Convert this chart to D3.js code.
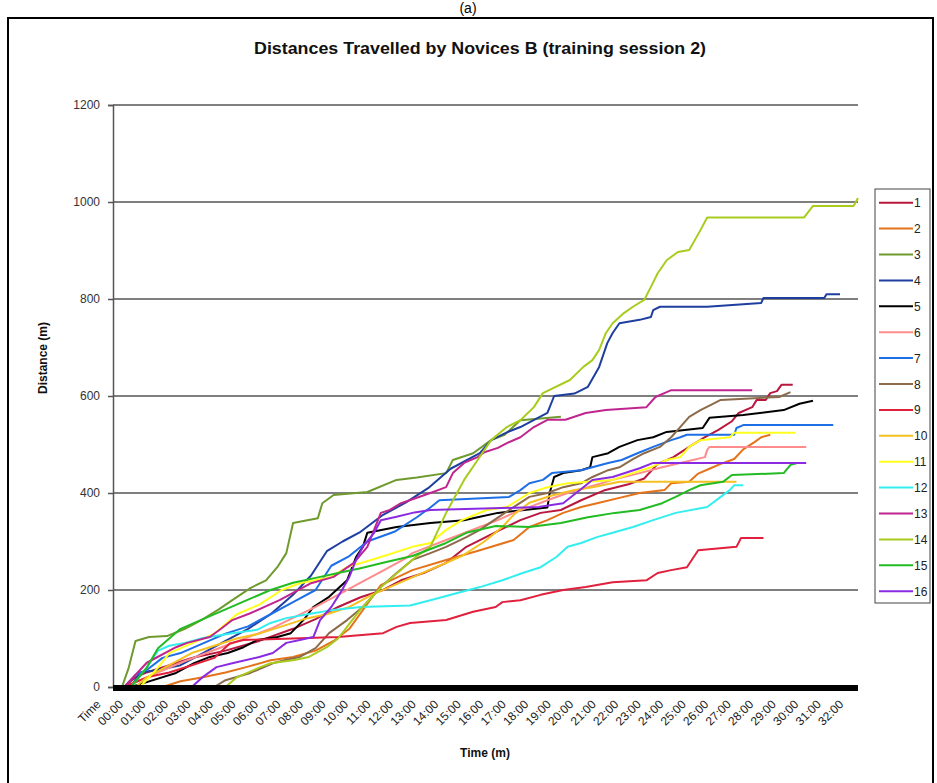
<!DOCTYPE html>
<html>
<head>
<meta charset="utf-8">
<script src="https://cdn.jsdelivr.net/npm/d3@7"></script>
<style>
  body { margin: 0; background: #fff; }
  svg { display: block; font-family: "Liberation Sans", Arial, sans-serif; }
</style>
</head>
<body>
<svg id="chart" width="937" height="783"></svg>
<script>
// Participants (legend entries) and their line colours
const seriesNames = ["1","2","3","4","5","6","7","8","9","10","11","12","13","14","15","16"];
const seriesColors = ["#B8173E","#E4731A","#6F9A2E","#1F3F9F","#000000","#FF8C8C","#1E6FE6","#8C6A4A",
                      "#E0203C","#F5C022","#FFFF1E","#33EEEE","#C0258F","#A8CC1E","#22BB22","#8A2BE2"];

// Category labels along the time axis (minutes:seconds)
const timeLabels = ["Time","00:00","01:00","02:00","03:00","04:00","05:00","06:00","07:00","08:00",
                    "09:00","10:00","11:00","12:00","13:00","14:00","15:00","16:00","17:00","18:00",
                    "19:00","20:00","21:00","22:00","23:00","24:00","25:00","26:00","27:00","28:00",
                    "29:00","30:00","31:00","32:00"];
const distanceTicks = [0, 200, 400, 600, 800, 1000, 1200];

// Cumulative distance per novice: [elapsed minutes, metres]
const novice1 = [[0,0],[0.5,0],[1,20],[1.5,30],[2.5,45],[3.5,60],[5,75],[6.5,95],[8,120],[9,140],[10,165],[11,185],[12,200],[12.8,220],[13.8,235],[14.8,256],[15.7,289],[16.3,303],[17.2,324],[18.1,344],[19,359],[19.9,365],[20.8,385],[21.8,405],[22.9,418],[23.6,430],[24.2,460],[24.9,474],[25.6,495],[26.3,515],[26.9,530],[27.5,548],[27.8,565],[28.4,577],[28.6,592],[29,592],[29.2,606],[29.5,610],[29.7,623],[30.2,623]];
const novice2 = [[0,0],[2.2,0],[3,12],[4,20],[5,30],[6,42],[7,55],[8,62],[9,75],[9.8,95],[10.5,120],[11.2,165],[11.9,210],[13.3,241],[14.8,262],[16.3,282],[17.8,303],[18.5,330],[19.3,344],[20,359],[20.8,371],[21.6,380],[22.5,390],[23.4,400],[24.5,406],[24.8,420],[25.6,423],[26,440],[26.5,450],[27,460],[27.6,470],[28,490],[28.5,505],[28.8,515],[29.2,520]];
const novice3 = [[0,0],[0.4,0],[0.7,40],[1.0,95],[1.6,103],[2.4,105],[3.2,120],[4,140],[4.7,160],[5.3,179],[6.1,204],[6.8,220],[7.3,247],[7.7,276],[8.0,338],[9.1,348],[9.3,379],[9.8,396],[11.3,402],[12.6,427],[13.5,432],[14.8,441],[15.1,468],[16.0,482],[16.8,509],[17.4,520],[18.1,550],[19.9,557]];
const novice4 = [[0,0],[0.8,0],[1.2,30],[2,35],[3,45],[4,70],[5,95],[6,120],[7,150],[8,190],[8.8,230],[9.5,280],[10.2,300],[11,320],[12,355],[13,380],[14,410],[15,450],[16.3,482],[16.8,509],[17.5,525],[18.1,536],[19.3,565],[19.6,600],[20.5,605],[21.1,619],[21.6,660],[21.96,709],[22.2,730],[22.5,750],[23.4,757],[23.9,763],[24.0,777],[24.3,784],[26.4,784],[28.8,792],[28.9,802],[31.6,802],[31.7,810],[32.3,810]];
const novice5 = [[0,0],[0.8,0],[1.5,10],[2.8,29],[3.6,49],[4.3,62],[5.1,70],[5.8,82],[6.4,97],[7.3,103],[7.9,111],[8.5,140],[8.9,165],[9.6,186],[10.4,220],[10.8,268],[11.1,289],[11.3,318],[12.6,330],[14.1,338],[15.6,344],[16.3,351],[17.1,359],[19.3,370],[19.4,400],[19.6,433],[20,441],[20.8,447],[21.2,453],[21.3,474],[22,482],[22.5,495],[23.3,509],[24,515],[24.6,526],[26.2,534],[26.5,555],[28,561],[29.8,571],[30.5,584],[31.1,590]];
const novice6 = [[0,0],[0.5,0],[1.5,20],[3,50],[5,85],[7,120],[9,165],[10,190],[11,215],[12,240],[13,265],[13.3,276],[14.8,303],[16.3,330],[17.1,344],[17.8,359],[18.5,371],[19.3,385],[20.2,400],[21.1,412],[22.2,427],[23.4,441],[24.4,453],[25.2,462],[26.3,474],[26.4,489],[26.5,495],[30.8,495]];
const novice7 = [[0,0],[0.5,0],[1,25],[1.5,35],[2.2,60],[3,70],[4,90],[5,110],[6,125],[7,150],[8,175],[9,200],[9.7,250],[10.5,270],[11.3,300],[12.5,320],[13.5,350],[14.1,370],[14.5,385],[17.6,392],[18.1,406],[18.5,420],[19.1,427],[19.5,441],[20.8,447],[22,462],[22.6,468],[23.3,482],[24,495],[24.8,509],[25.2,515],[25.5,520],[27.6,520],[27.7,534],[28,540],[32,540]];
const novice8 = [[0,0],[4.5,0],[5,14],[6.1,29],[7.1,49],[7.7,56],[8.3,62],[9,80],[9.6,111],[10.4,138],[11.1,165],[11.9,206],[12.6,235],[13.3,262],[14.1,276],[14.8,289],[15.7,309],[16.3,324],[16.8,340],[17.8,371],[18.5,392],[19.3,400],[20,412],[20.8,420],[21.3,433],[22,447],[22.5,453],[23.1,470],[23.6,482],[24.3,495],[24.8,515],[25.2,536],[25.6,557],[26.1,571],[26.7,585],[27,592],[29.6,598],[30.1,608]];
const novice9 = [[0,0],[0.5,0],[1.5,20],[2.5,30],[3.5,45],[4.5,60],[5.2,90],[5.8,97],[10,103],[12,111],[12.6,124],[13.2,132],[14.8,138],[16,155],[17,165],[17.3,175],[18.1,179],[19,190],[20,200],[21,206],[22.2,216],[23.7,220],[24.2,235],[24.8,241],[25.5,247],[26,282],[27.7,289],[27.9,307],[28.9,307]];
const novice10 = [[0,0],[1,0],[1.5,20],[2.5,45],[3.5,70],[4.5,85],[5.5,100],[6.5,110],[7.5,125],[8.5,140],[9.5,150],[10.5,165],[11.5,190],[12.5,210],[13.5,230],[14.5,250],[15.5,270],[16.5,300],[17.3,330],[17.8,355],[18.5,380],[19.5,395],[20.5,406],[21.3,412],[22.5,423],[27.7,423]];
const novice11 = [[0,0],[1.2,0],[2,40],[2.5,70],[3.5,90],[4.5,110],[5.5,150],[6.5,170],[7.5,200],[8.3,214],[9.7,227],[10.4,247],[11.9,268],[13.3,289],[14.1,297],[14.8,324],[15.5,344],[16.6,365],[17.5,371],[18.5,400],[19.3,412],[20.2,420],[22.2,427],[23.1,441],[23.9,453],[24.6,468],[25.2,474],[25.6,495],[26.1,509],[27.4,515],[27.6,524],[30.3,524]];
const novice12 = [[0,0],[0.8,0],[1.5,40],[2,75],[2.5,85],[3.2,91],[4,101],[5.3,111],[6.4,118],[7,132],[7.7,142],[8.9,152],[9.8,159],[11,165],[13.2,168],[14.1,179],[15.3,194],[16.3,206],[17.3,220],[18.2,235],[19,247],[19.7,268],[20.2,289],[20.8,297],[21.5,309],[22.2,318],[23.1,330],[24,344],[25,359],[26.4,371],[27,392],[27.4,406],[27.6,416],[28,416]];
const novice13 = [[0,0],[0.5,0],[1.5,50],[2.8,82],[3.3,91],[4.3,103],[4.8,120],[5.3,138],[6.1,152],[7.4,179],[8,194],[8.8,214],[9.8,227],[10.7,256],[11.3,289],[11.6,324],[11.9,359],[12.3,365],[12.8,379],[14.1,400],[14.8,412],[15.1,441],[15.6,462],[16.2,474],[16.5,484],[17.1,493],[17.5,503],[18.1,515],[18.7,536],[19.3,551],[20.1,551],[21,565],[21.9,571],[23.7,577],[24.1,598],[24.6,608],[24.8,612],[28.4,612]];
const novice14 = [[0,0],[5,0],[5.5,20],[6.5,40],[7,49],[8,55],[8.7,62],[9.5,82],[10,100],[10.5,130],[11,160],[11.5,185],[12,210],[12.5,230],[13,250],[13.5,270],[14.1,289],[14.8,359],[15.6,427],[16.2,468],[16.8,509],[17.5,536],[18.1,550],[18.7,577],[19.1,606],[20.3,633],[20.9,660],[21.3,674],[21.6,695],[21.9,730],[22.2,750],[22.7,771],[23.1,784],[23.6,798],[23.9,825],[24.2,853],[24.6,880],[25.1,897],[25.6,901],[26.1,942],[26.4,968],[30.7,968],[31.1,992],[32.9,992],[33.1,1008]];
const novice15 = [[0,0],[0.8,0],[1.5,40],[2,80],[2.5,100],[3,120],[4,140],[5,160],[6,180],[7,200],[8,215],[9,225],[10,235],[11,245],[12,256],[13.3,270],[14.8,297],[15.7,318],[17,332],[18.5,330],[19.9,338],[21.1,350],[22.3,359],[23.4,365],[24.4,379],[25,392],[25.6,406],[26.1,416],[27.1,423],[27.5,437],[29.8,441],[30.1,458],[30.4,462]];
const novice16 = [[0,0],[3.5,0],[4,21],[4.6,41],[5.3,49],[6.5,62],[7.1,70],[7.7,91],[8.3,97],[8.9,103],[9.2,138],[9.7,165],[10.1,194],[10.5,227],[10.8,262],[11.1,289],[11.6,318],[11.9,344],[12.6,351],[13.4,360],[14.1,365],[18.9,371],[20,379],[20.9,412],[21.3,427],[22.2,433],[23.4,451],[24,462],[30.8,462]];

const allSeries = [novice1, novice2, novice3, novice4, novice5, novice6, novice7, novice8,
                   novice9, novice10, novice11, novice12, novice13, novice14, novice15, novice16];

const svg = d3.select("#chart");

// Scales: elapsed minutes across, metres up
const x = d3.scaleLinear().domain([0, 33.1]).range([113, 858]);
const y = d3.scaleLinear().domain([0, 1200]).range([687, 105]);

// Panel caption
svg.append("text").attr("x", 468).attr("y", 13).attr("text-anchor", "middle")
  .attr("font-size", 14).attr("fill", "#000").text("(a)");

// Outer frame
svg.append("rect").attr("x", 8).attr("y", 18).attr("width", 925).attr("height", 800)
  .attr("fill", "none").attr("stroke", "#000").attr("stroke-width", 2);

// Title (condensed face, stretched to its span)
svg.append("text").attr("x", 480).attr("y", 54).attr("text-anchor", "middle")
  .attr("font-family", "'Liberation Sans Narrow', 'Liberation Sans', Arial, sans-serif")
  .attr("font-size", 16).attr("font-weight", "bold").attr("fill", "#111")
  .attr("textLength", 452).attr("lengthAdjust", "spacingAndGlyphs")
  .text("Distances Travelled by Novices B (training session 2)");

// Horizontal gridlines
svg.append("g").selectAll("line").data(distanceTicks.filter(d => d > 0)).join("line")
  .attr("x1", x(0)).attr("x2", x(33.1))
  .attr("y1", d => y(d)).attr("y2", d => y(d))
  .attr("stroke", "#555").attr("stroke-width", 1.5);

// Value axis
const yAxis = d3.axisLeft(y).tickValues(distanceTicks).tickFormat(d3.format("d"))
  .tickSize(5).tickPadding(8);
const yg = svg.append("g").attr("transform", `translate(${x(0)},0)`).call(yAxis);
yg.select(".domain").attr("stroke", "#555").attr("stroke-width", 1.5);
yg.selectAll(".tick line").attr("stroke", "#555").attr("stroke-width", 1.5);
yg.selectAll(".tick text").attr("font-size", 12).attr("fill", "#333")
  .attr("font-family", "Liberation Sans, Arial, sans-serif");

// Distance lines
const line = d3.line().x(d => x(d[0])).y(d => y(d[1]));
svg.append("g").selectAll("path").data(allSeries).join("path")
  .attr("d", line)
  .attr("fill", "none")
  .attr("stroke", (d, i) => seriesColors[i])
  .attr("stroke-width", 2)
  .attr("stroke-linejoin", "round");

// Category axis baseline (dense tick marks merge into a solid bar)
svg.append("rect").attr("x", x(0)).attr("y", 685).attr("width", x(33.1) - x(0)).attr("height", 6)
  .attr("fill", "#000");

// Time labels, rotated
svg.append("g").selectAll("text").data(timeLabels).join("text")
  .attr("transform", (d, i) => `translate(${x(i - 1) + 11},${705}) rotate(-45)`)
  .attr("text-anchor", "end")
  .attr("font-size", 12).attr("fill", "#222")
  .text(d => d);

// Axis titles
svg.append("text").attr("x", 485).attr("y", 757).attr("text-anchor", "middle")
  .attr("font-size", 12).attr("font-weight", "bold").attr("fill", "#111").text("Time (m)");
svg.append("text").attr("transform", "translate(47,358) rotate(-90)").attr("text-anchor", "middle")
  .attr("font-size", 12).attr("font-weight", "bold").attr("fill", "#111").text("Distance (m)");

// Legend
const legend = svg.append("g");
legend.append("rect").attr("x", 875).attr("y", 189).attr("width", 55).attr("height", 414)
  .attr("fill", "#fff").attr("stroke", "#444").attr("stroke-width", 1);
const item = legend.selectAll("g").data(seriesNames).join("g")
  .attr("transform", (d, i) => `translate(0,${202.7 + i * 25.9})`);
item.append("line").attr("x1", 879).attr("x2", 913).attr("y1", 0).attr("y2", 0)
  .attr("stroke", (d, i) => seriesColors[i]).attr("stroke-width", 2);
item.append("text").attr("x", 914).attr("y", 4.5).attr("font-size", 12).attr("fill", "#222").text(d => d);
</script>
</body>
</html>
